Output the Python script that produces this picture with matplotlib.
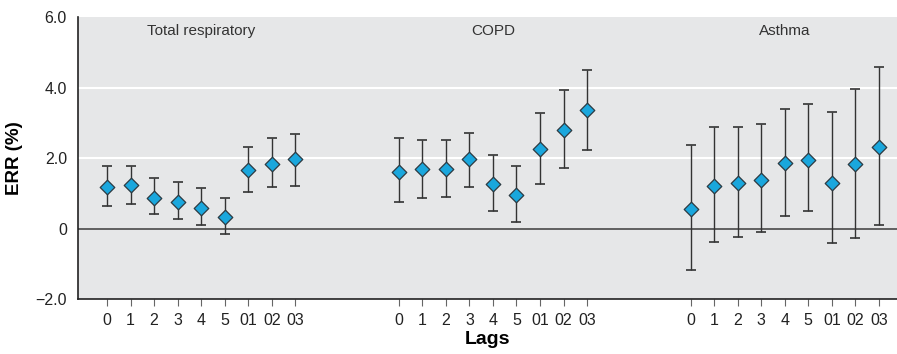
import numpy as np
import matplotlib
matplotlib.use('Agg')
import matplotlib.pyplot as plt

plt.rcParams['font.family'] = ['Liberation Sans', 'DejaVu Sans']

lags = ['0', '1', '2', '3', '4', '5', '01', '02', '03']
groups = ['Total respiratory', 'COPD', 'Asthma']

# estimated ERR (%) with 95% CI
total_err = [1.19, 1.23, 0.88, 0.75, 0.58, 0.33, 1.66, 1.82, 1.96]
total_lo = [0.64, 0.70, 0.41, 0.28, 0.10, -0.16, 1.04, 1.17, 1.21]
total_hi = [1.78, 1.78, 1.44, 1.32, 1.14, 0.86, 2.30, 2.56, 2.69]

copd_err = [1.60, 1.69, 1.69, 1.96, 1.27, 0.96, 2.26, 2.79, 3.35]
copd_lo = [0.74, 0.87, 0.91, 1.17, 0.49, 0.18, 1.26, 1.72, 2.24]
copd_hi = [2.56, 2.50, 2.50, 2.72, 2.09, 1.78, 3.27, 3.92, 4.51]

asthma_err = [0.55, 1.21, 1.30, 1.38, 1.87, 1.94, 1.30, 1.82, 2.32]
asthma_lo = [-1.17, -0.37, -0.24, -0.10, 0.35, 0.49, -0.41, -0.28, 0.10]
asthma_hi = [2.37, 2.88, 2.88, 2.97, 3.40, 3.52, 3.32, 3.96, 4.59]

series = [(total_err, total_lo, total_hi),
          (copd_err, copd_lo, copd_hi),
          (asthma_err, asthma_lo, asthma_hi)]

group_step = 12.4

fig = plt.figure(figsize=(8.97, 3.54), dpi=100)
ax = fig.add_axes([0.087, 0.155, 0.913, 0.797])
ax.set_facecolor('#e6e7e8')

for yg in [2.0, 4.0]:
    ax.axhline(yg, color='white', lw=1.5, zorder=1)
ax.axhline(0, color='#555555', lw=1.3, zorder=2)

xticks, xlabels = [], []
for g, (name, (err, lo, hi)) in enumerate(zip(groups, series)):
    x = np.arange(len(lags)) + g * group_step
    err = np.array(err)
    yerr = [err - np.array(lo), np.array(hi) - err]
    ax.errorbar(x, err, yerr=yerr, fmt='none', ecolor='#333333',
                elinewidth=1.0, capsize=3.5, capthick=1.2, zorder=3)
    ax.scatter(x, err, marker='D', s=55, color='#1aa7dd',
               edgecolor='#2b3a42', linewidth=0.9, zorder=4)
    ax.text(x[4], 5.6, name, ha='center', va='center', fontsize=11,
            color='#333333')
    xticks += list(x)
    xlabels += lags

ax.set_xlim(-1.23, 2 * group_step + 8.77)
ax.set_ylim(-2.0, 6.0)
ax.set_yticks([-2, 0, 2, 4, 6])
ax.set_yticklabels(['\u22122.0', '0', '2.0', '4.0', '6.0'], fontsize=11.5,
                   color='#222222')
ax.set_xticks(xticks)
ax.set_xticklabels(xlabels, fontsize=11.5, color='#222222')
ax.tick_params(axis='y', length=0, pad=8)
ax.tick_params(axis='x', length=5, color='#666666', pad=5)

for s in ['top', 'right']:
    ax.spines[s].set_visible(False)
for s in ['left', 'bottom']:
    ax.spines[s].set_color('#222222')
    ax.spines[s].set_linewidth(1.2)

ax.set_ylabel('ERR (%)', fontsize=13.5, fontweight='bold', labelpad=9)
ax.set_xlabel('Lags', fontsize=14, fontweight='bold', labelpad=2)

fig.savefig('out.png', dpi=100)
